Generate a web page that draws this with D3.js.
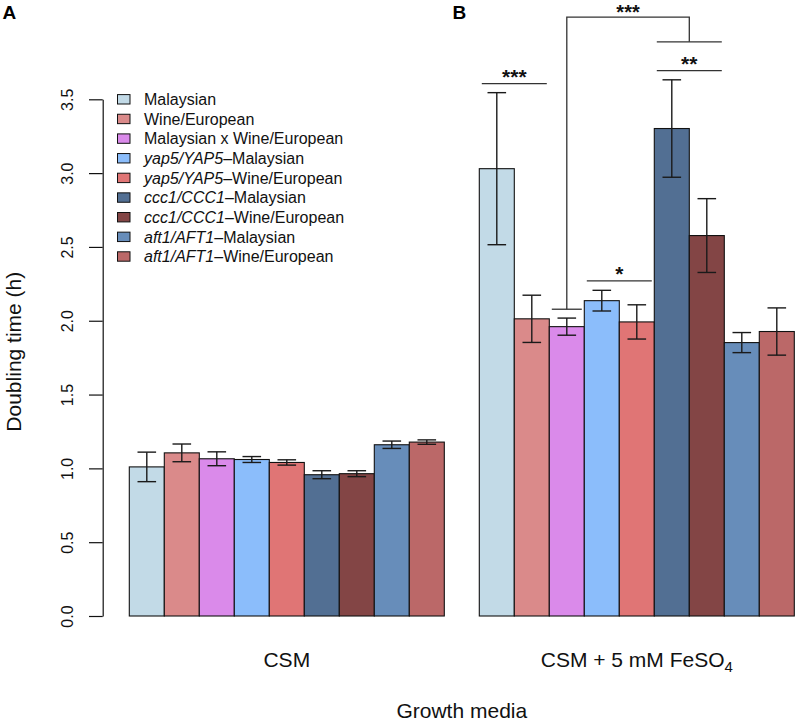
<!DOCTYPE html>
<html>
<head>
<meta charset="utf-8">
<script src="https://cdn.jsdelivr.net/npm/d3@7"></script>
<style>
  html, body { margin: 0; padding: 0; background: #fff; }
  svg { display: block; font-family: "Liberation Sans", Arial, Helvetica, sans-serif; }
</style>
</head>
<body>
<svg id="chart" width="797" height="723"></svg>
<script>
// growth media (groups) and strains (series)
const media = ['CSM', 'CSM + 5 mM FeSO4'];
const genes = [null, null, null, 'yap5/YAP5', 'yap5/YAP5', 'ccc1/CCC1', 'ccc1/CCC1', 'aft1/AFT1', 'aft1/AFT1'];
const backgrounds = ['Malaysian', 'Wine/European', 'Malaysian x Wine/European', 'Malaysian', 'Wine/European',
  'Malaysian', 'Wine/European', 'Malaysian', 'Wine/European'];
const colors = ['#c2dae7', '#da8a8a', '#da8aea', '#8bbdfb', '#e07575', '#526f93', '#834545', '#678dba', '#bb6868'];

// doubling time (h), mean and error, per medium
const csmMeans = [1.01, 1.105, 1.065, 1.06, 1.04, 0.957, 0.964, 1.16, 1.178];
const csmErr   = [0.10, 0.06, 0.047, 0.02, 0.018, 0.027, 0.02, 0.025, 0.015];
const feMeans  = [3.03, 2.013, 1.96, 2.136, 1.992, 3.302, 2.577, 1.852, 1.927];
const feErr    = [0.515, 0.16, 0.058, 0.07, 0.116, 0.33, 0.25, 0.068, 0.16];

const yTicks = [0, 0.5, 1, 1.5, 2, 2.5, 3, 3.5];

// significance marks in the FeSO4 group: bar index range, height, label
const sigPairs = [
  { from: 0, to: 1, y: 3.606, label: '***' },
  { from: 3, to: 4, y: 2.27, label: '*' },
  { from: 5, to: 6, y: 3.694, label: '**' }
];
const bracket = { bar: 2, low: 2.078, top: 4.056, pairFrom: 5, pairTo: 6, pairY: 3.889, label: '***' };

const svg = d3.select('#chart');
svg.append('rect').attr('width', 797).attr('height', 723).attr('fill', '#fff');

const x0 = d3.scaleBand().domain(media).range([129.3, 794.3]).paddingInner(0.1).paddingOuter(0);
const x1 = d3.scaleBand().domain(d3.range(9)).range([0, x0.bandwidth()]).padding(0);
const y = d3.scaleLinear().domain([0, 3.5]).range([616, 99.3]);
const bw = x1.bandwidth();

const groups = [
  { medium: media[0], means: csmMeans, err: csmErr },
  { medium: media[1], means: feMeans, err: feErr }
];

// bars
groups.forEach(g => {
  const gg = svg.append('g').attr('transform', `translate(${x0(g.medium)},0)`);
  gg.selectAll('rect').data(g.means).join('rect')
    .attr('x', (d, i) => x1(i))
    .attr('y', d => y(d))
    .attr('width', bw)
    .attr('height', d => y(0) - y(d))
    .attr('fill', (d, i) => colors[i])
    .attr('stroke', '#111')
    .attr('stroke-width', 1.1);

  // error bars
  const eb = gg.append('g').attr('stroke', '#1a1a1a').attr('stroke-width', 1.4);
  g.means.forEach((m, i) => {
    const cx = x1(i) + bw / 2;
    const hi = y(m + g.err[i]), lo = y(m - g.err[i]);
    eb.append('line').attr('x1', cx).attr('x2', cx).attr('y1', hi).attr('y2', lo);
    eb.append('line').attr('x1', cx - 9.3).attr('x2', cx + 9.3).attr('y1', hi).attr('y2', hi);
    eb.append('line').attr('x1', cx - 9.3).attr('x2', cx + 9.3).attr('y1', lo).attr('y2', lo);
  });
});

// y axis
const yAxis = svg.append('g').attr('transform', 'translate(102.7,0)')
  .call(d3.axisLeft(y).tickValues(yTicks).tickSize(13.7).tickSizeOuter(0).tickFormat(d3.format('.1f')));
yAxis.select('.domain').attr('stroke', '#111').attr('stroke-width', 1.2);
yAxis.selectAll('.tick line').attr('stroke', '#111').attr('stroke-width', 1.2);
yAxis.selectAll('.tick text')
  .attr('transform', 'rotate(-90)')
  .attr('x', 0).attr('y', -30).attr('dy', 0)
  .attr('text-anchor', 'middle')
  .attr('font-size', 16).attr('fill', '#111');

svg.append('text')
  .attr('transform', 'translate(20.5,351.7) rotate(-90)')
  .attr('text-anchor', 'middle').attr('font-size', 21).attr('fill', '#111')
  .text('Doubling time (h)');

// group labels
svg.append('text').attr('x', x0(media[0]) + x0.bandwidth() / 2).attr('y', 667)
  .attr('text-anchor', 'middle').attr('font-size', 21).attr('fill', '#111').text(media[0]);
const feLab = svg.append('text').attr('x', x0(media[1]) + x0.bandwidth() / 2).attr('y', 667)
  .attr('text-anchor', 'middle').attr('font-size', 21).attr('fill', '#111');
feLab.append('tspan').text('CSM + 5 mM FeSO');
feLab.append('tspan').attr('font-size', 15).attr('dy', 5).text('4');

svg.append('text').attr('x', (x0.range()[0] + x0.range()[1]) / 2).attr('y', 718)
  .attr('text-anchor', 'middle').attr('font-size', 21).attr('fill', '#111').text('Growth media');

// panel letters
svg.append('text').attr('x', 2.5).attr('y', 19).attr('font-size', 19).attr('font-weight', 'bold').text('A');
svg.append('text').attr('x', 452.5).attr('y', 18.5).attr('font-size', 19).attr('font-weight', 'bold').text('B');

// legend
const leg = svg.append('g');
backgrounds.forEach((b, i) => {
  const cy = 99.3 + i * 19.65;
  leg.append('rect').attr('x', 117.5).attr('y', cy - 4.7).attr('width', 12.5).attr('height', 9.4)
    .attr('fill', colors[i]).attr('stroke', '#111').attr('stroke-width', 1);
  const t = leg.append('text').attr('x', 144).attr('y', cy + 5.8).attr('font-size', 16).attr('fill', '#111');
  if (genes[i]) {
    t.append('tspan').attr('font-style', 'italic').text(genes[i]);
    t.append('tspan').text('\u2013' + b);
  } else {
    t.text(b);
  }
});

// significance annotations (second group)
const gx = x0(media[1]);
const inset = 2.5;
const sig = svg.append('g').attr('stroke', '#333').attr('stroke-width', 1.3).attr('fill', 'none');
const sigText = svg.append('g').attr('font-size', 21).attr('font-weight', 'bold').attr('text-anchor', 'middle').attr('fill', '#111');
sigPairs.forEach(s => {
  const xa = gx + x1(s.from) + inset, xb = gx + x1(s.to) + bw - inset;
  sig.append('line').attr('x1', xa).attr('x2', xb).attr('y1', y(s.y)).attr('y2', y(s.y));
  sigText.append('text').attr('x', (xa + xb) / 2).attr('y', y(s.y)).text(s.label);
});
{
  const b = bracket;
  const bx = gx + x1(b.bar) + bw / 2;
  const pa = gx + x1(b.pairFrom) + inset, pb = gx + x1(b.pairTo) + bw - inset;
  const px = gx + x1(b.pairTo);
  sig.append('line').attr('x1', gx + x1(b.bar) + inset).attr('x2', gx + x1(b.bar) + bw - inset)
    .attr('y1', y(b.low)).attr('y2', y(b.low));
  sig.append('line').attr('x1', pa).attr('x2', pb).attr('y1', y(b.pairY)).attr('y2', y(b.pairY));
  sig.append('path').attr('d', `M${bx},${y(b.low)}V${y(b.top)}H${px}V${y(b.pairY)}`);
  // top label nudged down a little so it stays inside the picture
  sigText.append('text').attr('x', (bx + px) / 2).attr('y', y(b.top) + 2).attr('font-size', 20).text(b.label);
}
</script>
</body>
</html>
